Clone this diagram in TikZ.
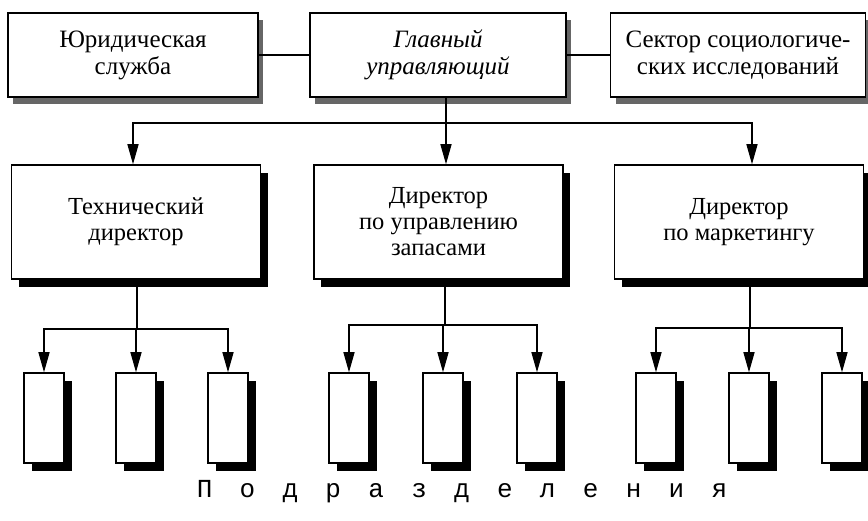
\documentclass[tikz,border=0pt]{standalone}
\usepackage{fontspec}
\setmainfont{Liberation Serif}
\newfontfamily\spacedfont{Liberation Mono}[WordSpace=1.75]
\usetikzlibrary{arrows.meta,shadows}

\tikzset{
  topbox/.style={draw, line width=1.3pt, fill=white, minimum height=84pt,
    align=center, font=\fontsize{25}{27}\selectfont,
    drop shadow={shadow xshift=5pt, shadow yshift=-7pt, fill=black!60, opacity=1}},
  dirbox/.style={draw, line width=1.5pt, fill=white, minimum width=249pt, minimum height=114pt,
    align=center, font=\fontsize{24.5}{26}\selectfont,
    drop shadow={shadow xshift=7pt, shadow yshift=-8pt, fill=black, opacity=1}},
  unitbox/.style={draw, line width=1.5pt, fill=white, minimum width=40pt, minimum height=90pt,
    drop shadow={shadow xshift=8pt, shadow yshift=-8pt, fill=black, opacity=1}},
  link/.style={line width=1.4pt},
  arr/.style={link, -{Triangle[length=20pt, width=11pt]}}
}

\begin{document}
\begin{tikzpicture}[x=1pt, y=-1pt]
  \useasboundingbox (0,0) rectangle (868,521);

  % Top row
  \node[topbox, minimum width=250pt] (legal) at (133,55) {Юридическая\\служба};
  \node[topbox, minimum width=256pt] (chief) at (438,55) {\itshape Главный\\\itshape управляющий};
  \node[topbox, minimum width=255pt] (sociol) at (738,55) {Сектор социологиче-\\ских исследований};

  \draw[link] (legal) -- (chief);
  \draw[link] (chief) -- (sociol);

  % Directors
  \node[dirbox] (tech) at (136,222) {Технический\\директор};
  \node[dirbox] (stock) at (438.5,222) {Директор\\по управлению\\запасами};
  \node[dirbox] (market) at (739,222) {Директор\\по маркетингу};

  \coordinate (bus) at (446,123);
  \draw[link] ([xshift=8pt]chief.south) -- (bus);
  \draw[arr] (bus) -| ([xshift=-3pt]tech.north);
  \draw[arr] (bus) -- ([xshift=7.5pt]stock.north);
  \draw[arr] (bus) -| ([xshift=13pt]market.north);

  % Units
  \foreach \x [count=\i] in {44,136,228,349,443,537,656,749,842}
    \node[unitbox] (u\i) at (\x,418) {};

  \coordinate (busA) at (137,329);
  \coordinate (busB) at (445,325);
  \coordinate (busC) at (750,328);
  \draw[link] (tech.south -| busA) -- (busA);
  \draw[link] (stock.south -| busB) -- (busB);
  \draw[link] (market.south -| busC) -- (busC);

  \foreach \i/\b in {1/busA,2/busA,3/busA,4/busB,5/busB,6/busB,7/busC,8/busC,9/busC}
    \draw[arr] (\b) -| (u\i.north);

  \node[font=\spacedfont\fontsize{26}{30}\selectfont] (units) at (462,492)
    {П о д р а з д е л е н и я};
\end{tikzpicture}
\end{document}
